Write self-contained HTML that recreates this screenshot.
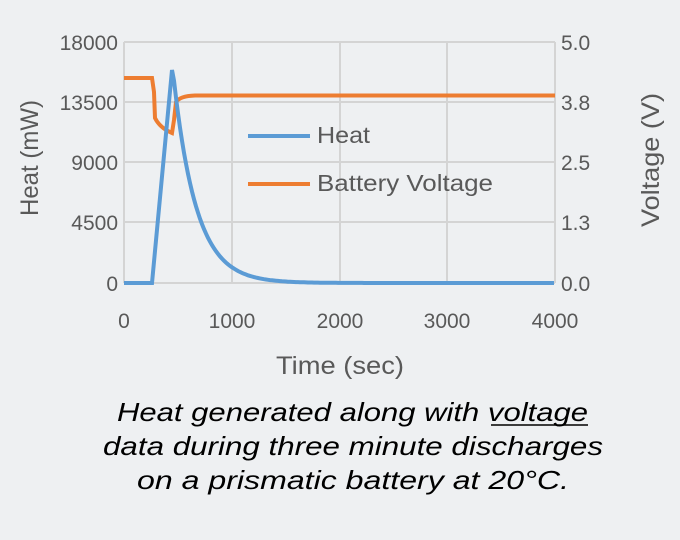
<!DOCTYPE html>
<html><head><style>
body{margin:0;background:#eef0f2;}
svg{display:block;font-family:"Liberation Sans",sans-serif;}
</style></head><body>
<svg width="680" height="540" viewBox="0 0 680 540">
<rect width="680" height="540" fill="#eef0f2"/>
<g stroke="#d4d4d4" stroke-width="2">
<line x1="124" y1="42" x2="555" y2="42"/><line x1="124" y1="102" x2="555" y2="102"/>
<line x1="124" y1="162" x2="555" y2="162"/><line x1="124" y1="222" x2="555" y2="222"/>
<line x1="232" y1="42" x2="232" y2="283"/><line x1="340" y1="42" x2="340" y2="283"/>
<line x1="447" y1="42" x2="447" y2="283"/>
<line x1="124" y1="42" x2="124" y2="283"/><line x1="555" y1="42" x2="555" y2="283"/>
<line x1="124" y1="283" x2="555" y2="283"/>
</g>
<g font-size="21" fill="#595959" text-anchor="end">
<text x="118" y="50">18000</text><text x="118" y="110">13500</text><text x="118" y="170">9000</text><text x="118" y="230">4500</text><text x="118" y="291">0</text>
</g>
<g font-size="21" fill="#595959" text-anchor="start">
<text x="561" y="50">5.0</text><text x="561" y="110">3.8</text><text x="561" y="170">2.5</text><text x="561" y="230">1.3</text><text x="561" y="291">0.0</text>
</g>
<g font-size="21" fill="#595959" text-anchor="middle">
<text x="124" y="328">0</text><text x="232" y="328">1000</text><text x="340" y="328">2000</text><text x="447" y="328">3000</text><text x="555" y="328">4000</text>
<text x="340" y="374" font-size="25" textLength="128" lengthAdjust="spacingAndGlyphs">Time (sec)</text>
<text transform="translate(38,158) rotate(-90)" font-size="25" textLength="116" lengthAdjust="spacingAndGlyphs">Heat (mW)</text>
<text transform="translate(659,160) rotate(-90)" font-size="25" textLength="134" lengthAdjust="spacingAndGlyphs">Voltage (V)</text>
</g>
<path d="M124,78 L152,78 L154,92 L155,118 Q160,128 172,133 L174,120 L176,102 Q180,96 195,95.5 L555,95.5" fill="none" stroke="#ed7d31" stroke-width="4"/>
<path id="heat" d="" fill="none" stroke="#5b9bd5" stroke-width="4"/>
<line x1="248" y1="136" x2="310" y2="136" stroke="#5b9bd5" stroke-width="4"/>
<line x1="248" y1="184" x2="310" y2="184" stroke="#ed7d31" stroke-width="4"/>
<text x="317" y="143" font-size="23" fill="#595959" textLength="53" lengthAdjust="spacingAndGlyphs">Heat</text>
<text x="317" y="191" font-size="23" fill="#595959" textLength="176" lengthAdjust="spacingAndGlyphs">Battery Voltage</text>
<g font-size="26" font-style="italic" fill="#000">
<text x="117" y="421" textLength="471" lengthAdjust="spacingAndGlyphs">Heat generated along with voltage</text>
<text x="103" y="455" textLength="500" lengthAdjust="spacingAndGlyphs">data during three minute discharges</text>
<text x="137" y="489" textLength="432" lengthAdjust="spacingAndGlyphs">on a prismatic battery at  20°C.</text>
</g>
<line x1="491" y1="425" x2="588" y2="425" stroke="#000" stroke-width="1.5"/>
<script>
var d="M124,283 L152,283 L172,70";
for(var x=174;x<=555;x+=2){var t=(x-173)*1000/108;var v=15800*Math.exp(-t/210);d+=" L"+x+","+(283-v/18000*241).toFixed(1);}
document.getElementById('heat').setAttribute('d',d);
</script>
</svg>
</body></html>
